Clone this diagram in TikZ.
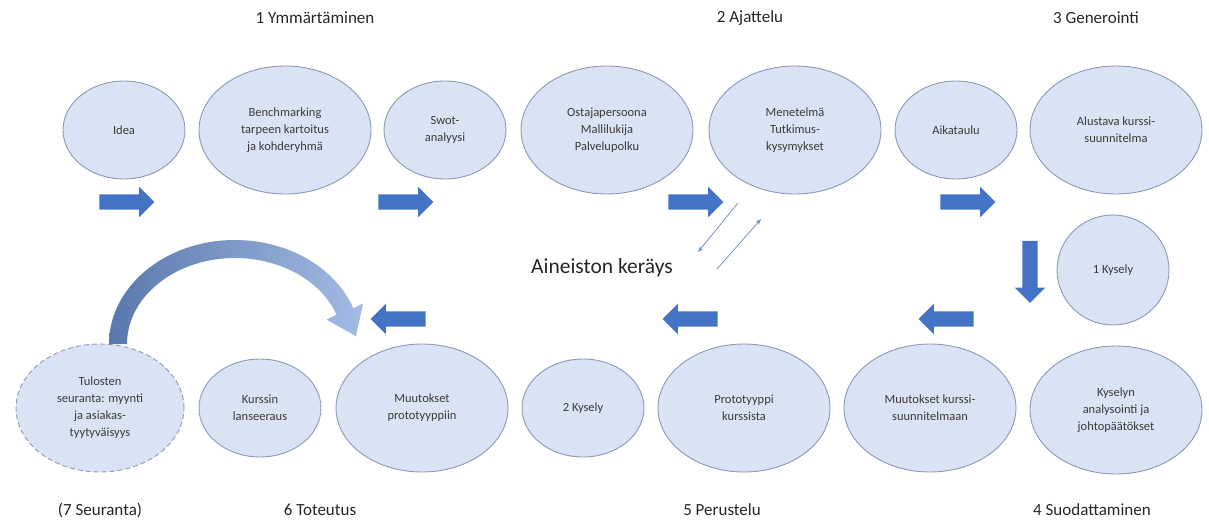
\documentclass[tikz,border=0pt]{standalone}
\usepackage{fontspec}
\setmainfont{Carlito}
\usetikzlibrary{shapes.geometric,shapes.arrows,arrows.meta}
\definecolor{efill}{HTML}{DAE3F3}
\definecolor{edraw}{HTML}{8A99B4}
\definecolor{etext}{HTML}{3A3A3A}
\definecolor{ablue}{HTML}{4472C4}
\definecolor{cdark}{HTML}{5A78AC}
\definecolor{clight}{HTML}{A4BBE3}
\definecolor{thinc}{HTML}{7890C0}
\begin{document}
\begin{tikzpicture}[x=1pt,y=1pt,
  bub/.style={ellipse, fill=efill, draw=edraw, line width=0.9pt, text=etext,
    font=\fontsize{12.5}{17}\selectfont, align=center, inner sep=0pt},
  bigbub/.style={bub, minimum width=172pt, minimum height=128pt},
  smallbub/.style={bub, minimum width=122pt, minimum height=98pt},
  phase/.style={font=\fontsize{17}{20}\selectfont, text=black!85},
  barrow/.style={single arrow, fill=ablue, draw=none, inner sep=7.5pt,
    single arrow head extend=7.5pt, minimum height=55pt},
  thinarrow/.style={draw=thinc, line width=0.8pt, -{Stealth[length=6pt,width=4.5pt]}}
]
\useasboundingbox (0,0) rectangle (1209,-525);

% phase labels
\node[phase] (p1) at (315,-18) {1 Ymmärtäminen};
\node[phase] (p2) at (750,-18) {2 Ajattelu};
\node[phase] (p3) at (1096,-18) {3 Generointi};
\node[phase] (p7) at (100,-510) {(7 Seuranta)};
\node[phase] (p6) at (320,-510) {6 Toteutus};
\node[phase] (p5) at (722,-510) {5 Perustelu};
\node[phase] (p4) at (1092,-510) {4 Suodattaminen};

% top row
\node[smallbub] (idea) at (124,-130) {Idea};
\node[bigbub] (bench) at (285,-130) {Benchmarking\\tarpeen kartoitus\\ja kohderyhmä};
\node[smallbub] (swot) at (445,-130) {Swot-\\analyysi};
\node[bigbub] (ostaja) at (607,-130) {Ostajapersoona\\Mallilukija\\Palvelupolku};
\node[bigbub] (menet) at (795,-130) {Menetelmä\\Tutkimus-\\kysymykset};
\node[smallbub] (aika) at (956,-130) {Aikataulu};
\node[bigbub] (alust) at (1116,-130) {Alustava kurssi-\\suunnitelma};

% right middle
\node[bub, minimum width=112pt, minimum height=110pt] (kys1) at (1113,-270) {1 Kysely};

% bottom row
\node[bub, dashed, dash pattern=on 5pt off 3pt, minimum width=168pt, minimum height=128pt] (tul) at (100,-408)
  {Tulosten\\seuranta: myynti\\ja asiakas-\\tyytyväisyys};
\node[smallbub] (kurs) at (260,-408) {Kurssin\\lanseeraus};
\node[bigbub] (muutp) at (422,-408) {Muutokset\\prototyyppiin};
\node[smallbub] (kys2) at (583,-408) {2 Kysely};
\node[bigbub] (proto) at (744,-408) {Prototyyppi\\kurssista};
\node[bigbub] (muutk) at (930,-408) {Muutokset kurssi-\\suunnitelmaan};
\node[bigbub] (kysan) at (1116,-410) {Kyselyn\\analysointi ja\\johtopäätökset};

% block arrows
\node[barrow] (a1) at (123,-202) {};
\node[barrow] (a2) at (402,-202) {};
\node[barrow] (a3) at (692,-202) {};
\node[barrow] (a4) at (964,-202) {};
\node[barrow, shape border rotate=270, minimum height=62pt] (ad) at (1030,-268) {};
\node[barrow, shape border rotate=180] (b1) at (950,-319) {};
\node[barrow, shape border rotate=180] (b2) at (694,-319) {};
\node[barrow, shape border rotate=180] (b3) at (402,-319) {};

% data collection
\node[font=\fontsize{21.5}{24}\selectfont, text=black!85] (aineisto) at (602,-268) {Aineiston keräys};
\coordinate (ta1) at (738,-203);
\coordinate (ta2) at (698,-252);
\coordinate (tb1) at (717,-269);
\coordinate (tb2) at (761,-219);
\draw[thinarrow] (ta1) -- (ta2);
\draw[thinarrow] (tb1) -- (tb2);

% curved feedback arrow
\shade[left color=cdark, right color=clight]
  (109,-344) arc[start angle=180, end angle=20, x radius=126pt, y radius=104pt]
  -- (363.2,-303.3) -- (355.9,-336.2) -- (326.7,-319.7) -- (336.5,-314.6)
  arc[start angle=20, end angle=180, x radius=108pt, y radius=86pt] -- cycle;
\end{tikzpicture}
\end{document}
